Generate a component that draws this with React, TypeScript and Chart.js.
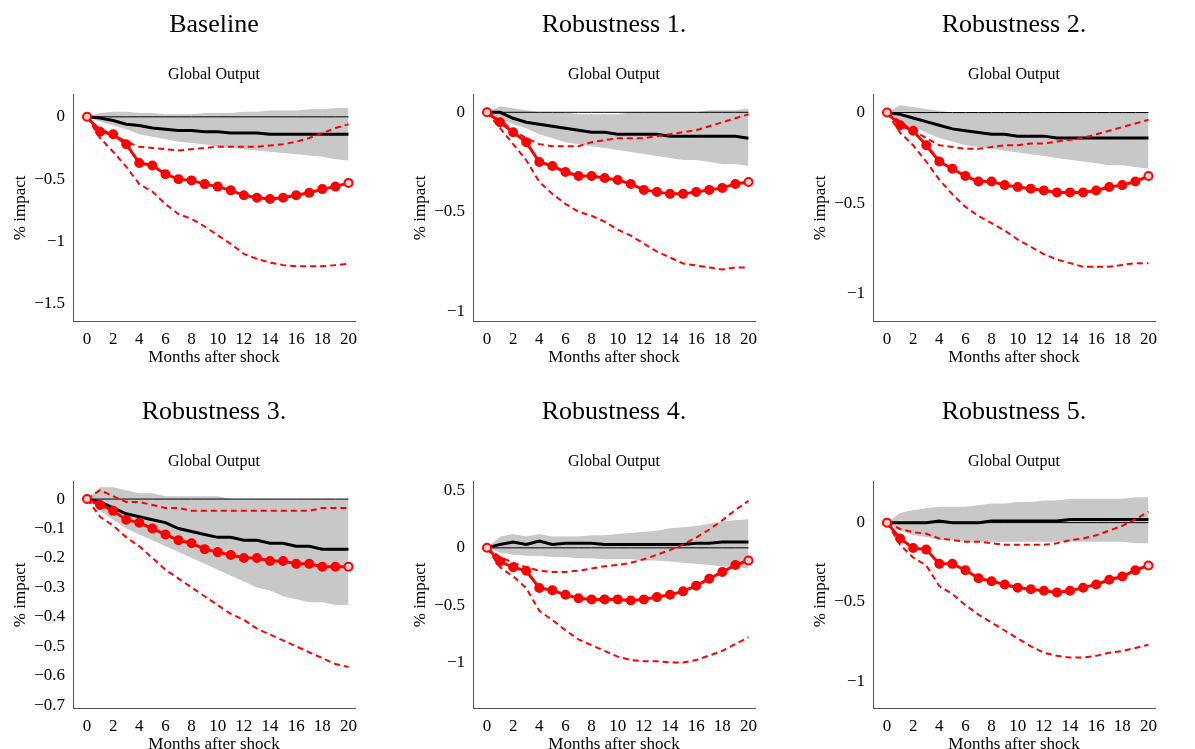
import React, { useEffect, useRef } from "react";
import { Chart, registerables } from "chart.js";
Chart.register(...registerables);

const months = [0,1,2,3,4,5,6,7,8,9,10,11,12,13,14,15,16,17,18,19,20];
const titles = ["Baseline","Robustness 1.","Robustness 2.","Robustness 3.","Robustness 4.","Robustness 5."];

const median1 = [0,-0.01,-0.03,-0.06,-0.07,-0.09,-0.1,-0.11,-0.11,-0.12,-0.12,-0.13,-0.13,-0.13,-0.14,-0.14,-0.14,-0.14,-0.14,-0.14,-0.14];
const bandHi1 = [0,0.03,0.04,0.04,0.03,0.03,0.02,0.02,0.02,0.03,0.03,0.03,0.04,0.04,0.05,0.05,0.05,0.06,0.06,0.07,0.07];
const bandLo1 = [0,-0.04,-0.07,-0.1,-0.14,-0.16,-0.18,-0.2,-0.21,-0.22,-0.24,-0.25,-0.26,-0.27,-0.28,-0.29,-0.3,-0.31,-0.32,-0.34,-0.35];
const red1 = [0,-0.12,-0.14,-0.22,-0.37,-0.39,-0.46,-0.5,-0.51,-0.54,-0.56,-0.59,-0.63,-0.65,-0.66,-0.65,-0.63,-0.61,-0.58,-0.56,-0.53];
const redHi1 = [0,-0.1,-0.14,-0.2,-0.24,-0.25,-0.26,-0.27,-0.26,-0.25,-0.24,-0.24,-0.24,-0.24,-0.23,-0.22,-0.2,-0.17,-0.13,-0.09,-0.06];
const redLo1 = [0,-0.17,-0.28,-0.4,-0.54,-0.6,-0.7,-0.78,-0.82,-0.88,-0.95,-1.02,-1.1,-1.14,-1.17,-1.19,-1.2,-1.2,-1.2,-1.19,-1.18];

const median2 = [0,0,-0.03,-0.05,-0.06,-0.07,-0.08,-0.09,-0.1,-0.1,-0.11,-0.11,-0.11,-0.11,-0.12,-0.12,-0.12,-0.12,-0.12,-0.12,-0.13];
const bandHi2 = [0,0.03,0.02,0.01,0,0,0,-0.01,-0.01,-0.01,-0.01,0,0,0,0,0,0,0.01,0.01,0.01,0.02];
const bandLo2 = [0,-0.03,-0.06,-0.08,-0.11,-0.13,-0.15,-0.16,-0.17,-0.18,-0.19,-0.2,-0.21,-0.22,-0.23,-0.24,-0.24,-0.25,-0.26,-0.26,-0.27];
const red2 = [0,-0.05,-0.1,-0.15,-0.25,-0.27,-0.3,-0.32,-0.32,-0.33,-0.34,-0.36,-0.39,-0.4,-0.41,-0.41,-0.4,-0.39,-0.38,-0.36,-0.35];
const redHi2 = [0,-0.04,-0.09,-0.13,-0.16,-0.17,-0.17,-0.17,-0.15,-0.14,-0.13,-0.13,-0.13,-0.12,-0.11,-0.1,-0.09,-0.07,-0.05,-0.03,-0.01];
const redLo2 = [0,-0.08,-0.16,-0.24,-0.35,-0.41,-0.46,-0.5,-0.52,-0.55,-0.59,-0.62,-0.66,-0.7,-0.73,-0.76,-0.77,-0.78,-0.79,-0.78,-0.78];

const median3 = [0,-0.01,-0.03,-0.05,-0.07,-0.09,-0.1,-0.11,-0.12,-0.12,-0.13,-0.13,-0.13,-0.14,-0.14,-0.14,-0.14,-0.14,-0.14,-0.14,-0.14];
const bandHi3 = [0,0.04,0.03,0.02,0.01,0,0,0,0,0,0,0,0,0,0,0,0,0,0,0,0];
const bandLo3 = [0,-0.05,-0.08,-0.11,-0.14,-0.16,-0.18,-0.19,-0.2,-0.21,-0.22,-0.23,-0.24,-0.25,-0.26,-0.27,-0.28,-0.29,-0.29,-0.3,-0.31];
const red3 = [0,-0.07,-0.1,-0.18,-0.27,-0.31,-0.35,-0.38,-0.38,-0.4,-0.41,-0.42,-0.43,-0.44,-0.44,-0.44,-0.43,-0.41,-0.4,-0.38,-0.35];
const redHi3 = [0,-0.05,-0.1,-0.14,-0.18,-0.19,-0.2,-0.2,-0.19,-0.18,-0.18,-0.17,-0.17,-0.16,-0.15,-0.14,-0.12,-0.1,-0.08,-0.06,-0.04];
const redLo3 = [0,-0.11,-0.18,-0.27,-0.37,-0.45,-0.52,-0.57,-0.61,-0.65,-0.7,-0.74,-0.78,-0.81,-0.83,-0.85,-0.85,-0.85,-0.84,-0.83,-0.83];

const median4 = [0,-0.01,-0.03,-0.05,-0.06,-0.07,-0.08,-0.1,-0.11,-0.12,-0.13,-0.13,-0.14,-0.14,-0.15,-0.15,-0.16,-0.16,-0.17,-0.17,-0.17];
const bandHi4 = [0,0.04,0.04,0.03,0.02,0.02,0.01,0.01,0.01,0.01,0.01,0,0,0,0,0,0,0,0,0,0];
const bandLo4 = [0,-0.04,-0.07,-0.1,-0.12,-0.14,-0.16,-0.18,-0.2,-0.22,-0.24,-0.26,-0.28,-0.3,-0.31,-0.33,-0.34,-0.35,-0.35,-0.36,-0.36];
const red4 = [0,-0.02,-0.04,-0.07,-0.08,-0.1,-0.12,-0.14,-0.15,-0.17,-0.18,-0.19,-0.2,-0.2,-0.21,-0.21,-0.22,-0.22,-0.23,-0.23,-0.23];
const redHi4 = [0,0.03,0.01,-0.01,-0.01,-0.02,-0.03,-0.03,-0.04,-0.04,-0.04,-0.04,-0.04,-0.04,-0.04,-0.04,-0.04,-0.04,-0.03,-0.03,-0.03];
const redLo4 = [0,-0.06,-0.09,-0.13,-0.16,-0.2,-0.24,-0.27,-0.3,-0.33,-0.36,-0.39,-0.41,-0.44,-0.46,-0.48,-0.5,-0.52,-0.54,-0.56,-0.57];

const median5 = [0,0.03,0.05,0.03,0.06,0.03,0.04,0.04,0.04,0.03,0.03,0.03,0.03,0.03,0.03,0.03,0.04,0.04,0.05,0.05,0.05];
const bandHi5 = [0,0.1,0.12,0.1,0.12,0.1,0.1,0.1,0.11,0.11,0.12,0.13,0.14,0.15,0.17,0.18,0.19,0.21,0.23,0.24,0.25];
const bandLo5 = [0,-0.04,-0.06,-0.07,-0.07,-0.08,-0.08,-0.09,-0.09,-0.1,-0.1,-0.1,-0.11,-0.11,-0.12,-0.13,-0.14,-0.15,-0.16,-0.17,-0.18];
const red5 = [0,-0.12,-0.17,-0.2,-0.35,-0.37,-0.41,-0.44,-0.45,-0.45,-0.45,-0.46,-0.45,-0.43,-0.41,-0.38,-0.33,-0.27,-0.21,-0.15,-0.11];
const redHi5 = [0,-0.08,-0.13,-0.17,-0.2,-0.21,-0.21,-0.2,-0.18,-0.16,-0.15,-0.13,-0.1,-0.06,-0.02,0.03,0.09,0.16,0.24,0.33,0.41];
const redLo5 = [0,-0.17,-0.25,-0.35,-0.55,-0.63,-0.72,-0.8,-0.85,-0.9,-0.95,-0.98,-0.99,-0.99,-1.0,-1.0,-0.98,-0.94,-0.9,-0.84,-0.78];

const median6 = [0,0,0,0,0.01,0,0,0,0.01,0.01,0.01,0.01,0.01,0.01,0.02,0.02,0.02,0.02,0.02,0.02,0.02];
const bandHi6 = [0,0.06,0.08,0.09,0.1,0.1,0.1,0.11,0.12,0.12,0.13,0.13,0.14,0.14,0.15,0.15,0.15,0.15,0.15,0.16,0.16];
const bandLo6 = [0,-0.05,-0.08,-0.09,-0.11,-0.11,-0.12,-0.12,-0.12,-0.12,-0.12,-0.12,-0.12,-0.12,-0.12,-0.12,-0.12,-0.12,-0.12,-0.13,-0.13];
const red6 = [0,-0.1,-0.16,-0.17,-0.26,-0.26,-0.3,-0.35,-0.37,-0.39,-0.41,-0.42,-0.43,-0.44,-0.43,-0.41,-0.39,-0.36,-0.34,-0.3,-0.27];
const redHi6 = [0,-0.04,-0.06,-0.07,-0.1,-0.11,-0.12,-0.12,-0.13,-0.14,-0.14,-0.14,-0.14,-0.13,-0.11,-0.1,-0.08,-0.05,-0.02,0.02,0.07];
const redLo6 = [0,-0.14,-0.22,-0.27,-0.4,-0.45,-0.52,-0.58,-0.63,-0.68,-0.73,-0.78,-0.82,-0.84,-0.85,-0.85,-0.84,-0.82,-0.81,-0.79,-0.77];

const yTicks1 = [0,-0.5,-1,-1.5];
const yTicks2 = [0,-0.5,-1];
const yTicks3 = [0,-0.5,-1];
const yTicks4 = [0,-0.1,-0.2,-0.3,-0.4,-0.5,-0.6,-0.7];
const yTicks5 = [0.5,0,-0.5,-1];
const yTicks6 = [0,-0.5,-1];
const yRanges = [[-1.64,0.18],[-1.05,0.09],[-1.15,0.1],[-0.71,0.06],[-1.4,0.58],[-1.17,0.26]];
const xTicks = [0,2,4,6,8,10,12,14,16,18,20];

const panels = [
  [median1,bandHi1,bandLo1,red1,redHi1,redLo1,yTicks1],
  [median2,bandHi2,bandLo2,red2,redHi2,redLo2,yTicks2],
  [median3,bandHi3,bandLo3,red3,redHi3,redLo3,yTicks3],
  [median4,bandHi4,bandLo4,red4,redHi4,redLo4,yTicks4],
  [median5,bandHi5,bandLo5,red5,redHi5,redLo5,yTicks5],
  [median6,bandHi6,bandLo6,red6,redHi6,redLo6,yTicks6],
];

const FONT = "'Liberation Serif', 'DejaVu Serif', serif";
const pts = (arr: number[]) => months.map((m, i) => ({ x: m, y: arr[i] }));

function Panel({ idx }: { idx: number }) {
  const ref = useRef<HTMLCanvasElement>(null);
  useEffect(() => {
    const [med, bh, bl, red, rh, rl, yt] = panels[idx] as any;
    const [ymin, ymax] = yRanges[idx];
    const zero = months.map(() => 0);
    const ptFill = months.map((_, i) => (i === 0 || i === months.length - 1 ? "#ffd0d0" : "#ff0000"));
    const chart = new Chart(ref.current!, {
      type: "line",
      data: {
        datasets: [
          { data: pts(bh), borderWidth: 0, pointRadius: 0, fill: "+1", backgroundColor: "#c8c8c8", order: 10 },
          { data: pts(bl), borderWidth: 0, pointRadius: 0, fill: false, order: 10 },
          { data: pts(zero), borderColor: "#000", borderWidth: 1, pointRadius: 0, fill: false, order: 5 },
          { data: pts(med), borderColor: "#000", borderWidth: 3, pointRadius: 0, fill: false, order: 4 },
          { data: pts(rh), borderColor: "#ff0000", borderWidth: 2, borderDash: [6, 4], pointRadius: 0, fill: false, order: 3 },
          { data: pts(rl), borderColor: "#ff0000", borderWidth: 2, borderDash: [6, 4], pointRadius: 0, fill: false, order: 3 },
          { data: pts(red), borderColor: "#ff0000", backgroundColor: ptFill, pointBorderColor: "#ff0000", borderWidth: 3, pointRadius: 4, pointBorderWidth: 2, fill: false, order: 2 },
        ],
      },
      options: {
        animation: false,
        responsive: false,
        layout: { padding: { left: 10, right: 45, bottom: 20, top: 0 } },
        plugins: {
          legend: { display: false },
          tooltip: { enabled: false },
          title: { display: true, fullSize: false, text: titles[idx], color: "#000", font: { family: FONT, size: 26, weight: "normal" }, padding: { top: 10, bottom: 24 } },
          subtitle: { display: true, fullSize: false, text: "Global Output", color: "#000", font: { family: FONT, size: 16 }, padding: { bottom: 10 } },
        },
        scales: {
          x: {
            type: "linear", min: -1.07, max: 20.5,
            afterBuildTicks: (s: any) => { s.ticks = xTicks.map((v) => ({ value: v })); },
            grid: { display: false, drawTicks: true, tickLength: 6, color: "#555" },
            border: { color: "#555", width: 1 },
            ticks: { color: "#000", font: { family: FONT, size: 17 }, maxRotation: 0, autoSkip: false, padding: 2, callback: (v: any) => String(v) },
            title: { display: true, text: "Months after shock", color: "#000", font: { family: FONT, size: 17 }, padding: { top: -4, bottom: 0 } },
          },
          y: {
            min: ymin, max: ymax,
            afterBuildTicks: (s: any) => { s.ticks = yt.map((v: number) => ({ value: v })); },
            afterFit: (s: any) => { s.width = 63; },
            grid: { display: false, drawTicks: true, tickLength: 6, color: "#555" },
            border: { color: "#555", width: 1 },
            ticks: { color: "#000", font: { family: FONT, size: 17 }, autoSkip: false, padding: 2, callback: (v: any) => (v < 0 ? "\u2212" + String(-v) : String(v)) },
            title: { display: true, text: "% impact", color: "#000", font: { family: FONT, size: 17 }, padding: 0 },
          },
        },
      } as any,
    });
    return () => chart.destroy();
  }, [idx]);
  const col = idx % 3, row = Math.floor(idx / 3);
  return (
    <canvas ref={ref} width={400} height={388}
      style={{ position: "absolute", left: col * 400 + 0, top: row * 387, width: 400, height: 388 }} />
  );
}

export default function App() {
  return (
    <div style={{ position: "absolute", left: 0, top: 0, width: 1195, height: 749, background: "#fff" }}>
      {titles.map((_, i) => <Panel key={i} idx={i} />)}
    </div>
  );
}
